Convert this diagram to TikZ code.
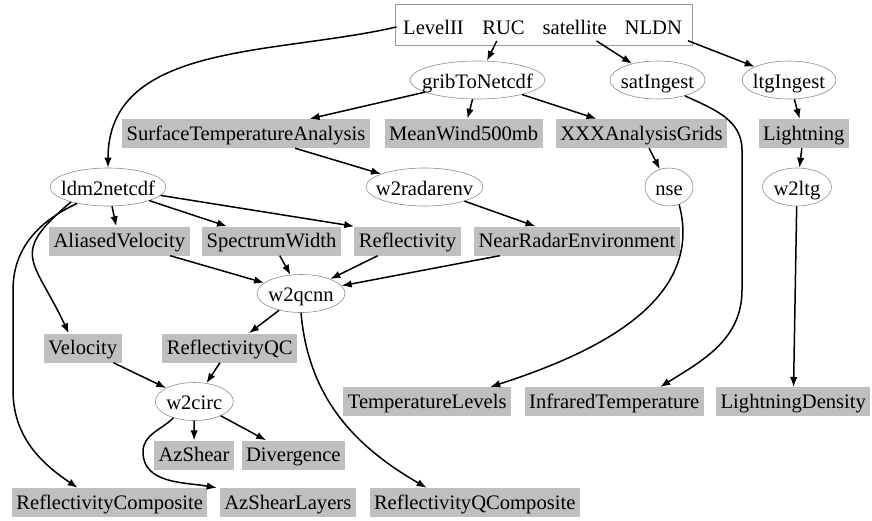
\documentclass[tikz,border=0pt]{standalone}
\usepackage{fontspec}
\setmainfont{Liberation Serif}
\usetikzlibrary{arrows.meta,shapes.geometric}
\newcommand{\ctext}[1]{\makebox[0pt]{#1}}
\tikzset{
  data/.style={fill=black!25,inner xsep=4.5pt,inner ysep=0pt,minimum height=29pt,
    text height=15pt,text depth=2pt},
  proc/.style={ellipse,draw=black!45,line width=0.6pt,inner sep=0pt,minimum height=38pt,
    text height=17pt,text depth=1pt},
  srcbox/.style={draw=black!40,line width=0.6pt,inner sep=0pt},
  field/.style={inner sep=6.5pt,anchor=base},
  flow/.style={->,line width=1.5pt}
}

\begin{document}
\begin{tikzpicture}[>={Latex[length=10pt,width=7.5pt]},x=1pt,y=1pt,
    font=\fontsize{20.6}{24}\selectfont]
  \useasboundingbox (0,0) rectangle (872,-520);
  % sources
  \node[srcbox,minimum width=297pt,minimum height=41pt] (src) at (543.5,-25) {};
  \node[field] (levelII) at (433.5,-34) {LevelII};
  \node[field] (ruc) at (503.5,-34) {RUC};
  \node[field] (satellite) at (574.7,-34) {satellite};
  \node[field] (nldn) at (653.3,-34) {NLDN};
  % ingest
  \node[proc,minimum width=135pt] (grib) at (477.5,-80) {\ctext{gribToNetcdf}};
  \node[proc,minimum width=95pt] (satingest) at (657.5,-80) {\ctext{satIngest}};
  \node[proc,minimum width=94pt] (ltgingest) at (789,-80) {\ctext{ltgIngest}};
  \node[data] (sta) at (246,-133.5) {SurfaceTemperatureAnalysis};
  \node[data] (mw) at (463.7,-133.5) {MeanWind500mb};
  \node[data] (xxx) at (641.5,-133.5) {XXXAnalysisGrids};
  \node[data] (ltng) at (803.7,-133.5) {Lightning};
  % second stage
  \node[proc,minimum width=116pt] (ldm) at (108,-187) {\ctext{ldm2netcdf}};
  \node[proc,minimum width=117pt] (w2radar) at (424.5,-187) {\ctext{w2radarenv}};
  \node[proc,minimum width=48pt] (nse) at (669,-187) {\ctext{nse}};
  \node[proc,minimum width=69pt] (w2ltg) at (797,-187) {\ctext{w2ltg}};
  \node[data] (aliased) at (119.3,-241) {AliasedVelocity};
  \node[data] (spw) at (271.5,-241) {SpectrumWidth};
  \node[data] (refl) at (407.5,-241) {Reflectivity};
  \node[data] (nre) at (577,-241) {NearRadarEnvironment};
  % qc and shear
  \node[proc,minimum width=88pt] (w2qcnn) at (301,-293.5) {\ctext{w2qcnn}};
  \node[data] (vel) at (82.7,-348) {Velocity};
  \node[data] (reflqc) at (229.7,-348) {ReflectivityQC};
  \node[proc,minimum width=78pt] (w2circ) at (194.3,-401.5) {\ctext{w2circ}};
  \node[data] (templev) at (427.2,-401.7) {TemperatureLevels};
  \node[data] (irtemp) at (614.2,-401.7) {InfraredTemperature};
  \node[data] (ltgdens) at (793.3,-401.7) {LightningDensity};
  \node[data] (azshear) at (194,-455) {AzShear};
  \node[data] (diverg) at (293.3,-455) {Divergence};
  \node[data] (reflcomp) at (109.7,-502.5) {ReflectivityComposite};
  \node[data] (azlayers) at (287.8,-502.5) {AzShearLayers};
  \node[data] (reflqccomp) at (474.7,-502.5) {ReflectivityQComposite};
  % connectors
  \draw[flow] (levelII.west) to[out=193,in=90] (ldm.north);
  \draw[flow] (ruc) -- (grib);
  \draw[flow] (satellite) -- (satingest);
  \draw[flow] (nldn) -- (ltgingest);
  \draw[flow] (grib) -- (sta);
  \draw[flow] (grib) -- (mw);
  \draw[flow] (grib) -- (xxx);
  \draw[flow] (ltgingest) -- (ltng);
  \draw[flow] (satingest.-30) to[out=-25,in=90] (742,-150) -- (742,-290)
    to[out=-90,in=32] ([xshift=46pt]irtemp.north);
  \draw[flow] (xxx) -- (nse);
  \draw[flow] (ltng) -- (w2ltg);
  \draw[flow] (sta) -- (w2radar);
  \draw[flow] (nse.-60) to[out=-75,in=18] ([xshift=63pt]templev.north);
  \draw[flow] (w2ltg) -- (ltgdens);
  \draw[flow] (ldm) -- (aliased);
  \draw[flow] (ldm) -- (spw);
  \draw[flow] (ldm) -- (refl.north west);
  \draw[flow] (ldm.202) to[out=220,in=115,looseness=1.6] ([xshift=-14pt]vel.north);
  \draw[flow] (ldm.208) to[out=205,in=90] (13,-290) -- (13,-390)
    to[out=-90,in=146] ([xshift=-32pt]reflcomp.north);
  \draw[flow] (w2radar) -- (nre);
  \draw[flow] (aliased) -- (w2qcnn);
  \draw[flow] (spw) -- (w2qcnn);
  \draw[flow] (refl) -- (w2qcnn);
  \draw[flow] (nre) -- (w2qcnn);
  \draw[flow] (w2qcnn) -- (reflqc);
  \draw[flow] (w2qcnn.south) to[out=-85,in=150] ([xshift=-48pt]reflqccomp.north);
  \draw[flow] (vel) -- (w2circ);
  \draw[flow] (reflqc) -- (w2circ);
  \draw[flow] (w2circ) -- (azshear);
  \draw[flow] (w2circ) -- (diverg);
  \draw[flow] (w2circ.218) to[out=225,in=90] (143,-452)
    to[out=-90,in=170] ([xshift=-71pt]azlayers.north);
\end{tikzpicture}
\end{document}
